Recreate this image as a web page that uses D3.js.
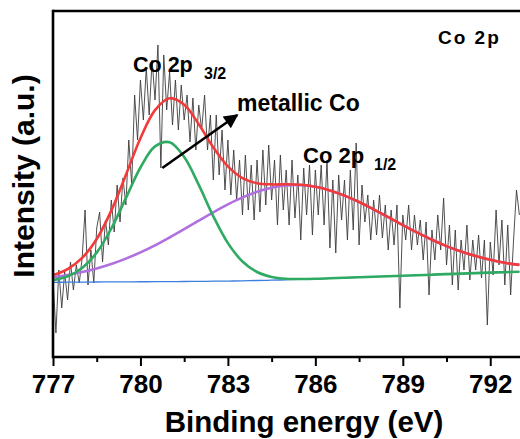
<!DOCTYPE html>
<html><head><meta charset="utf-8">
<script src="https://cdn.jsdelivr.net/npm/d3@7"></script>
<style>
html,body{margin:0;padding:0;background:#fff;}
text{font-family:"Liberation Sans",Arial,sans-serif;font-weight:bold;fill:#000;}
</style></head>
<body><svg id="chart" width="520" height="439"></svg>
<script>
// Binding energy ticks
const xTicks = [777, 780, 783, 786, 789, 792];
const xMinorTicks = [778.5, 781.5, 784.5, 787.5, 790.5];
// raw spectrum, 777.0 -> 793.0 eV, step 0.1 eV (a.u.)
const rawStart = 777.0, rawStep = 0.1;
const rawCounts = [
79,24,87,49,85,57,95,67,92,74,
99,147,72,107,74,129,145,95,137,112,
157,125,172,135,179,152,217,172,262,217,
277,237,289,242,297,257,312,189,302,247,
285,232,277,227,272,237,262,215,259,207,
252,227,262,207,242,177,242,182,227,167,
217,162,207,157,197,142,202,147,192,137,
197,145,207,152,212,157,197,132,202,147,
187,132,197,139,182,117,189,142,192,122,
187,142,192,132,197,109,177,104,182,137,
177,117,187,127,214,112,172,135,162,117,
157,122,162,119,152,107,147,112,152,49,
142,117,152,107,142,112,137,97,135,62,
127,97,142,107,159,92,132,72,127,67,
117,87,132,77,117,87,122,79,117,32,
115,82,147,92,137,72,132,62,117,167,
142
];
// fitted curves sampled every 0.5 eV
const fitEnergy = [777,777.5,778,778.5,779,779.5,780,780.5,781,781.5,782,782.5,783,783.5,784,784.5,785,785.5,786,786.5,787,787.5,788,788.5,789,789.5,790,790.5,791,791.5,792,792.5,793];
const background = [74.7,74.8,74.9,75.0,75.1,75.15,75.25,75.3,75.4,75.5,75.6,75.8,75.9,76.2,76.5,76.8,77.2,77.7,78.2,78.7,79.2,79.8,80.3,80.8,81.3,81.8,82.3,82.9,83.4,83.9,84.4,84.8,85.3];
const peak32 = [76.8,80.7,89.1,104.4,128.5,158.9,189.5,210.6,214.7,199.9,172.1,140.7,113.9,95.5,85.0,80.1,78.3,78.0,78.2,78.7,79.2,79.8,80.3,80.8,81.3,81.8,82.3,82.9,83.4,83.9,84.4,84.8,85.3];
const peak12 = [79.9,82.0,84.9,88.6,93.0,98.4,104.6,111.6,119.5,127.8,136.3,144.7,152.6,159.6,165.3,169.3,171.6,171.9,170.2,166.6,161.4,155.0,147.7,139.8,131.9,124.3,117.2,110.9,105.4,100.9,97.2,94.2,92.1];
const envelope = [82.0,87.9,99.1,118.0,146.4,182.1,218.8,246.9,258.8,252.2,232.8,209.6,190.6,178.9,173.8,172.6,172.7,172.2,170.2,166.6,161.4,155.0,147.7,139.8,131.9,124.3,117.2,110.9,105.4,100.9,97.2,94.2,92.1];

const svg = d3.select("#chart");
const L = 53, R = 519.4, T = 11, B = 357;
const x = d3.scaleLinear().domain([777, 793]).range([L, R]);
const y = d3.scaleLinear().domain([0, 346]).range([B, T]);

svg.append("defs").append("clipPath").attr("id","clip")
  .append("rect").attr("x",L).attr("y",T).attr("width",520-L).attr("height",B-T);
svg.select("defs").append("marker").attr("id","arrow")
  .attr("viewBox","0 0 10 10").attr("refX",9).attr("refY",5)
  .attr("markerWidth",6).attr("markerHeight",5.5).attr("markerUnits","strokeWidth")
  .attr("orient","auto")
  .append("path").attr("d","M0,0L10,5L0,10Z").attr("fill","#000");

const raw = rawCounts.map((v,i)=>({e: rawStart + i*rawStep, v}));
const fit = arr => fitEnergy.map((e,i)=>({e, v: arr[i]}));

const g = svg.append("g").attr("clip-path","url(#clip)");
const lineRaw = d3.line().x(d=>x(d.e)).y(d=>y(d.v));
const lineFit = d3.line().x(d=>x(d.e)).y(d=>y(d.v)).curve(d3.curveCatmullRom);

g.append("path").datum(raw).attr("d",lineRaw).attr("fill","none")
  .attr("stroke","#3c3c3c").attr("stroke-width",0.9).attr("stroke-linejoin","miter");
g.append("path").datum(fit(background)).attr("d",lineFit).attr("fill","none")
  .attr("stroke","#3b7fe0").attr("stroke-width",1.3);
g.append("path").datum(fit(peak12)).attr("d",lineFit).attr("fill","none")
  .attr("stroke","#b070e0").attr("stroke-width",2.6);
g.append("path").datum(fit(peak32)).attr("d",lineFit).attr("fill","none")
  .attr("stroke","#2eaa62").attr("stroke-width",2.6);
g.append("path").datum(fit(envelope)).attr("d",lineFit).attr("fill","none")
  .attr("stroke","#f23a3a").attr("stroke-width",2.6);

// axes frame
const xAxis = d3.axisBottom(x).tickValues(xTicks).tickFormat(d3.format("d")).tickSize(9).tickPadding(7);
const xa = svg.append("g").attr("transform",`translate(0,${B})`).call(xAxis);
xa.select(".domain").remove();
xa.selectAll(".tick line").attr("stroke","#000").attr("stroke-width",2);
xa.selectAll(".tick text").attr("font-size",26).attr("font-family","Liberation Sans, Arial, sans-serif").attr("font-weight","bold").attr("dy","0.78em");
const xm = svg.append("g").attr("transform",`translate(0,${B})`)
  .call(d3.axisBottom(x).tickValues(xMinorTicks).tickFormat("").tickSize(5));
xm.select(".domain").remove();
xm.selectAll(".tick line").attr("stroke","#000").attr("stroke-width",2);

svg.append("line").attr("x1",L).attr("x2",520).attr("y1",B).attr("y2",B).attr("stroke","#000").attr("stroke-width",2.6);
svg.append("line").attr("x1",L).attr("x2",520).attr("y1",T).attr("y2",T).attr("stroke","#000").attr("stroke-width",2.4);
svg.append("line").attr("x1",L).attr("x2",L).attr("y1",T-1.2).attr("y2",B+1.3).attr("stroke","#000").attr("stroke-width",2.6);

// labels
svg.append("text").attr("x",304).attr("y",432).attr("text-anchor","middle").attr("font-size",29.5).text("Binding energy (eV)");
svg.append("text").attr("transform","translate(33.5,176) rotate(-90)").attr("text-anchor","middle").attr("font-size",30).text("Intensity (a.u.)");

// annotations
svg.append("text").attr("x",438).attr("y",44).attr("font-size",19).attr("letter-spacing","2px").text("Co 2p");
svg.append("text").attr("x",133).attr("y",72).attr("font-size",21.5).text("Co 2p");
svg.append("text").attr("x",204).attr("y",79).attr("font-size",16).text("3/2");
svg.append("text").attr("x",303).attr("y",163).attr("font-size",22).text("Co 2p");
svg.append("text").attr("x",374).attr("y",170).attr("font-size",16).text("1/2");
svg.append("text").attr("x",237).attr("y",111).attr("font-size",23).text("metallic Co");
svg.append("line").attr("x1",x(780.75)).attr("y1",y(189)).attr("x2",x(783.32)).attr("y2",y(242))
  .attr("stroke","#000").attr("stroke-width",2.6).attr("marker-end","url(#arrow)");
</script></body></html>
